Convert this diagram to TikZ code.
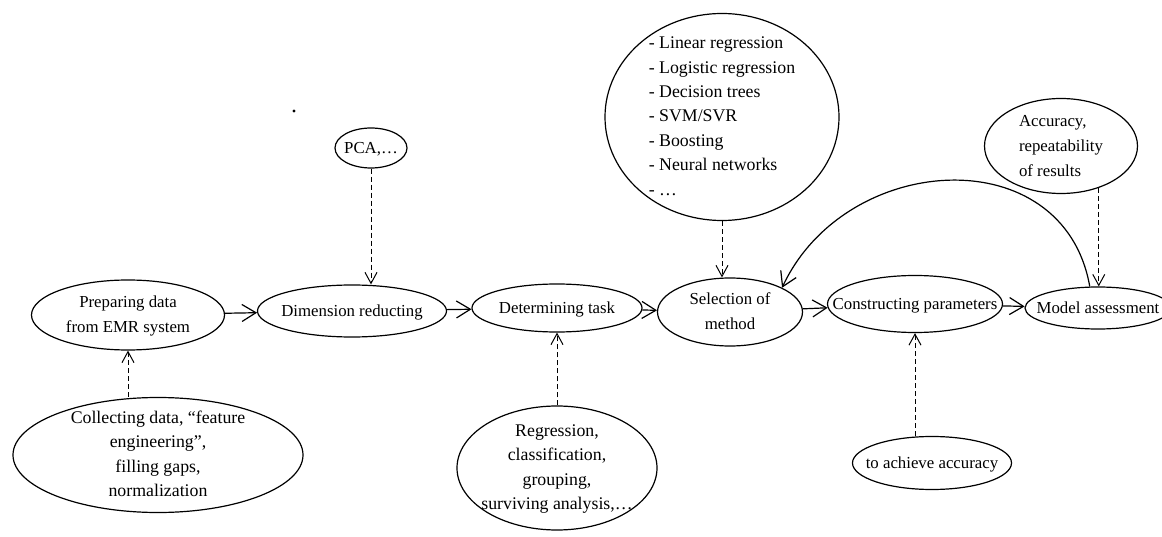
\documentclass[tikz,border=0pt]{standalone}
\usepackage{fontspec}
\setmainfont{Liberation Serif}
\usetikzlibrary{shapes.geometric,arrows.meta}
\newcommand{\ovaltxt}[2][c]{\smash{\makebox[0pt]{\raisebox{-0.25em}{\begin{tabular}{@{}#1@{}}#2\end{tabular}}}}}

\begin{document}
\begin{tikzpicture}[x=0.5pt, y=0.5pt,
  oval/.style={draw, ellipse, inner sep=0pt, line width=0.6pt, font=\fontsize{8.4}{12.6}\selectfont},
  bigtext/.style={font=\fontsize{8.9}{12.2}\selectfont},
  flow/.style={-{Straight Barb[length=7pt,width=8.5pt]}, line width=0.6pt},
  hint/.style={-{Straight Barb[length=5.5pt,width=6pt]}, line width=0.5pt, dash pattern=on 2.5pt off 1.5pt}]
\useasboundingbox (0,0) rectangle (1162,536);

% Main chain
\node[oval, minimum width=96.5pt, minimum height=35pt] (prep) at (128,221) {\ovaltxt{Preparing data\\from EMR system}};
\node[oval, minimum width=94.5pt, minimum height=26pt] (dim) at (352,225) {\ovaltxt{Dimension reducting}};
\node[oval, minimum width=85pt, minimum height=24pt] (det) at (557,228) {\ovaltxt{Determining task}};
\node[oval, minimum width=72.5pt, minimum height=34pt] (sel) at (730,224) {\ovaltxt{Selection of\\method}};
\node[oval, minimum width=87.5pt, minimum height=28.5pt] (con) at (915,232) {\ovaltxt{Constructing parameters}};
\node[oval, minimum width=73pt, minimum height=21pt] (mod) at (1098,228) {\ovaltxt{Model assessment}};

% Notes above
\node[oval, minimum width=36pt, minimum height=20pt] (pca) at (371,388) {\ovaltxt{PCA,\ldots}};
\node[oval, bigtext, minimum width=117pt, minimum height=103.5pt] (methods) at (722,419)
  {\ovaltxt[l]{- Linear regression\\- Logistic regression\\- Decision trees\\- SVM/SVR\\- Boosting\\- Neural networks\\- \ldots}};
\node[oval, minimum width=76.5pt, minimum height=47.5pt] (acc) at (1061,390) {\ovaltxt[l]{Accuracy,\\repeatability\\of results}};

% Notes below
\node[oval, bigtext, minimum width=145pt, minimum height=57.5pt] (col) at (158,81)
  {\ovaltxt{Collecting data, “feature\\engineering”,\\filling gaps,\\normalization}};
\node[oval, bigtext, minimum width=100pt, minimum height=62pt] (reg) at (557,68)
  {\ovaltxt{Regression,\\classification,\\grouping,\\surviving analysis,\ldots}};
\node[oval, minimum width=79.5pt, minimum height=26.5pt] (goal) at (932,73) {\ovaltxt{to achieve accuracy}};

\node[circle, fill, inner sep=0.6pt] (speck) at (294,425) {};

% Arrows
\draw[flow] (prep) -- (dim);
\draw[flow] (dim) -- (det);
\draw[flow] (det) -- (sel);
\draw[flow] (sel) -- (con);
\draw[flow] (con) -- (mod);
\draw[flow] (mod.111) to[out=100, in=65, looseness=1.25] (sel.25);

% Dashed hints
\draw[hint] (col.north -| prep.south) -- (prep.south);
\draw[hint] (pca.south) -- (pca.south |- dim.north);
\draw[hint] (reg.north) -- (det.south);
\draw[hint] (methods.south) -- (methods.south |- sel.north);
\draw[hint] (goal.north -| con.south) -- (con.south);
\draw[hint] (acc.-48) -- (acc.-48 |- mod.north);
\end{tikzpicture}
\end{document}
